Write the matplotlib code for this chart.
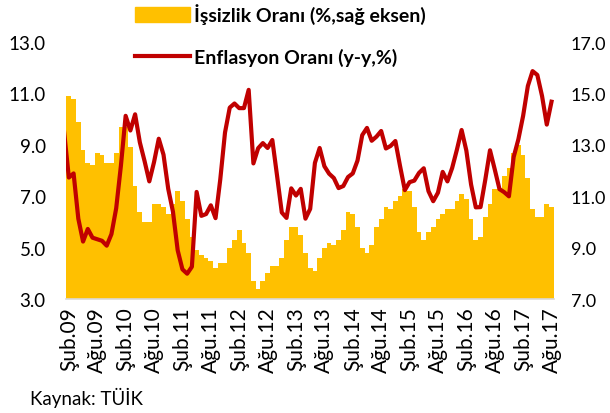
import numpy as np
import matplotlib
matplotlib.use("Agg")
import matplotlib.pyplot as plt
from matplotlib.patches import Patch
from matplotlib.lines import Line2D
from matplotlib.ticker import FormatStrFormatter

plt.rcParams['font.family'] = ['Lato', 'DejaVu Sans']

color_unemp = '#FFC000'
color_infl = '#C00000'

# Unemployment rate (%), monthly, Feb 2009 - Aug 2017 (right axis)
unemployment = [
    14.9, 14.8, 13.9, 12.8, 12.3, 12.2, 12.7, 12.6, 12.3, 12.3, 12.7,          # 2009 Feb-Dec
    13.7, 13.7, 12.9, 11.4, 10.4, 10.0, 10.0, 10.7, 10.7, 10.6, 10.3, 10.7,    # 2010
    11.2, 10.8, 10.1, 9.4, 8.9, 8.7, 8.6, 8.5, 8.2, 8.4, 8.4, 9.0,             # 2011
    9.3, 9.7, 9.2, 8.8, 7.7, 7.4, 7.7, 8.0, 8.3, 8.3, 8.6, 9.3,                # 2012
    9.8, 9.8, 9.5, 8.8, 8.2, 8.1, 8.6, 9.0, 9.2, 9.1, 9.3, 9.7,                # 2013
    10.4, 10.3, 9.8, 9.0, 8.8, 9.1, 9.8, 10.1, 10.6, 10.5, 10.8, 11.0,         # 2014
    11.3, 11.2, 10.6, 9.6, 9.3, 9.6, 9.8, 10.1, 10.3, 10.5, 10.5, 10.8,        # 2015
    11.1, 10.9, 10.1, 9.3, 9.4, 10.2, 10.7, 11.3, 11.3, 11.8, 12.1, 12.7,      # 2016
    13.0, 12.6, 11.7, 10.5, 10.2, 10.2, 10.7, 10.6,                            # 2017 Jan-Aug
]

# CPI inflation (y-y, %), monthly, Jan 2009 - Aug 2017 (left axis)
inflation = [
    9.50, 7.73, 7.89, 6.13, 5.24, 5.73, 5.39, 5.33, 5.27, 5.08, 5.53, 6.53,    # 2009
    8.19, 10.13, 9.56, 10.19, 9.10, 8.37, 7.58, 8.33, 9.24, 8.62, 7.29, 6.40,  # 2010
    4.90, 4.16, 3.99, 4.26, 7.17, 6.24, 6.31, 6.65, 6.15, 7.66, 9.48, 10.45,   # 2011
    10.61, 10.43, 10.43, 11.14, 8.28, 8.87, 9.07, 8.88, 9.19, 7.80, 6.37, 6.16,  # 2012
    7.31, 7.03, 7.29, 6.13, 6.51, 8.30, 8.88, 8.17, 7.88, 7.71, 7.32, 7.40,    # 2013
    7.75, 7.89, 8.39, 9.38, 9.66, 9.16, 9.32, 9.54, 8.86, 8.96, 9.15, 8.17,    # 2014
    7.24, 7.55, 7.61, 7.91, 8.09, 7.20, 6.81, 7.14, 7.95, 7.58, 8.10, 8.81,    # 2015
    9.58, 8.78, 7.46, 6.57, 6.58, 7.64, 8.79, 8.05, 7.28, 7.16, 7.00, 8.53,    # 2016
    9.22, 10.13, 11.29, 11.87, 11.72, 10.90, 9.79, 10.68,                      # 2017
]

tick_labels = [f"{m}.{y:02d}" for y in range(9, 18) for m in ("Şub", "Ağu")]

fig = plt.figure(figsize=(6.1, 4.14), dpi=100)
ax = fig.add_axes([0.109, 0.275, 0.799, 0.621])
ax2 = ax.twinx()

# bars on the right axis, line on the left axis drawn above them
x = np.arange(len(unemployment))
ax2.bar(x, unemployment, width=1.0, color=color_unemp, linewidth=0)
ax2.set_ylim(7, 17)

x_line = np.arange(len(inflation)) - 1  # first point is Jan 2009
ax.plot(x_line, inflation, color=color_infl, lw=3.0, solid_joinstyle='round')
ax.set_zorder(ax2.get_zorder() + 1)
ax.patch.set_visible(False)

ax.set_xlim(-0.5, len(unemployment) - 0.5)
ax.set_ylim(3, 13)
ax.set_yticks(np.arange(3, 14, 2))
ax2.set_yticks(np.arange(7, 18, 2))
ax.yaxis.set_major_formatter(FormatStrFormatter('%.1f'))
ax2.yaxis.set_major_formatter(FormatStrFormatter('%.1f'))

ax.set_xticks(np.arange(0, len(unemployment), 6))
ax.set_xticklabels(tick_labels, rotation=90)

for a in (ax, ax2):
    for s in a.spines.values():
        s.set_visible(False)
ax2.spines['bottom'].set_visible(True)
ax2.spines['bottom'].set_color('#d9d9d9')
ax2.spines['bottom'].set_linewidth(1.2)

ax.tick_params(axis='y', length=0, labelsize=13.5, pad=15)
ax2.tick_params(axis='y', length=0, labelsize=13, pad=12)
ax.tick_params(axis='x', length=0, labelsize=15, pad=5)

handles = [Patch(color=color_unemp), Line2D([], [], color=color_infl, lw=3.0)]
labels = ['İşsizlik Oranı (%,sağ eksen)', 'Enflasyon Oranı (y-y,%)']
fig.legend(handles, labels, loc='upper left', bbox_to_anchor=(0.221, 0.99),
           frameon=False, prop={'weight': 'bold', 'size': 14},
           handlelength=2.85, handleheight=0.85, labelspacing=1.25,
           handletextpad=0.2, borderpad=0, borderaxespad=0)

fig.text(30 / 610, 1 - 398 / 414, 'Kaynak: TÜİK', va='center', fontsize=13.5)

fig.savefig('out.png', dpi=100)
